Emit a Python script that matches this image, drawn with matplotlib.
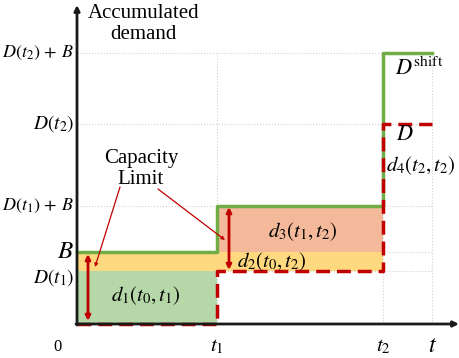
import matplotlib.pyplot as plt

plt.rcParams['font.family'] = ['Liberation Serif', 'DejaVu Serif']
plt.rcParams['mathtext.fontset'] = 'stix'

# time points (t0 = 0)
t1 = 1.40
t2 = 3.06
t_end = 3.55

# demand levels
D1 = 0.53      # D(t1)
B = 0.72       # capacity limit
D1B = 1.18     # D(t1) + B
D2 = 2.00      # D(t2)
D2B = 2.71     # D(t2) + B

y_ticks = [D2B, D2, D1B, B, D1]
y_labels = [r'$D(t_2)\,+\,B$', r'$D(t_2)$', r'$D(t_1)\,+\,B$', r'$B$', r'$D(t_1)$']
y_label_sizes = [13, 14, 13, 18, 14]
y_label_offsets = [0, 0, 0, 0, -0.07]

x_ticks = [0, t1, t2, t_end]
x_labels = ['0', r'$t_1$', r'$t_2$', r'$t$']
x_label_sizes = [12, 15, 15, 17]

# step curves
D_x = [0, t1, t1, t2, t2, t_end]
D_y = [0, 0, D1, D1, D2, D2]
S_x = [0, t1, t1, t2, t2, t_end]
S_y = [B, B, D1B, D1B, D2B, D2B]

green_fill = '#b6d7a8'
yellow_fill = '#ffd97f'
orange_fill = '#f4b99a'
green_line = '#70ad47'
red_line = '#c00000'

fig = plt.figure(figsize=(4.6, 3.58), dpi=100)
ax = fig.add_axes([0, 0, 1, 1])
ax.set_xlim(-0.77, 3.83)
ax.set_ylim(-0.34, 3.24)
ax.axis('off')

# gridlines
for y in y_ticks:
    ax.plot([0, t_end], [y, y], color='#d0d0d0', lw=0.8, ls=':', zorder=1)
for x in [t1, t2, t_end]:
    ax.plot([x, x], [0, D2B], color='#d0d0d0', lw=0.8, ls=':', zorder=1)

# filled regions
ax.fill_between([0, t1], 0, D1, color=green_fill, lw=0, zorder=2)
ax.fill_between([0, t1], D1, B, color=yellow_fill, lw=0, zorder=2)
ax.fill_between([t1, t2], D1, B, color=yellow_fill, lw=0, zorder=2)
ax.fill_between([t1, t2], B, D1B, color=orange_fill, lw=0, zorder=2)

# curves
ax.plot(S_x, S_y, color=green_line, lw=2.5, zorder=4)
ax.plot(D_x, D_y, color=red_line, lw=2.5, ls=(0, (4, 2)), zorder=5)

# axes arrows
ax.annotate('', xy=(0, 3.19), xytext=(0, -0.01),
            arrowprops=dict(arrowstyle='-|>', color='#1a1a1a', lw=2,
                            mutation_scale=8, shrinkA=0, shrinkB=0), zorder=6)
ax.annotate('', xy=(3.82, 0), xytext=(-0.01, 0),
            arrowprops=dict(arrowstyle='-|>', color='#1a1a1a', lw=2,
                            mutation_scale=8, shrinkA=0, shrinkB=0), zorder=6)

# double arrows
ax.annotate('', xy=(0.11, B - 0.02), xytext=(0.11, 0.03),
            arrowprops=dict(arrowstyle='<|-|>', color=red_line, lw=2,
                            mutation_scale=7, shrinkA=0, shrinkB=0), zorder=6)
ax.annotate('', xy=(t1 + 0.12, D1B - 0.01), xytext=(t1 + 0.12, D1 + 0.01),
            arrowprops=dict(arrowstyle='<|-|>', color=red_line, lw=2,
                            mutation_scale=7, shrinkA=0, shrinkB=0), zorder=6)

# capacity limit annotation
ax.text(0.64, 1.55, 'Capacity\nLimit', ha='center', va='center',
        fontsize=15, linespacing=1.1, zorder=7)
ax.annotate('', xy=(0.18, 0.57), xytext=(0.43, 1.37),
            arrowprops=dict(arrowstyle='-|>', color=red_line, lw=0.9,
                            mutation_scale=5, shrinkA=0, shrinkB=0), zorder=7)
ax.annotate('', xy=(1.48, 0.84), xytext=(0.81, 1.35),
            arrowprops=dict(arrowstyle='-|>', color=red_line, lw=0.9,
                            mutation_scale=5, shrinkA=0, shrinkB=0), zorder=7)

# axis title
ax.text(0.11, 3.00, 'Accumulated\ndemand', ha='left', va='center',
        fontsize=15, linespacing=1.1, multialignment='center')

# y labels
for y, lab, fs, off in zip(y_ticks, y_labels, y_label_sizes, y_label_offsets):
    ax.text(-0.03, y + off, lab, ha='right', va='center', fontsize=fs)

# x labels
for x, lab, fs in zip(x_ticks, x_labels, x_label_sizes):
    ax.text(x - (0.19 if x == 0 else 0), -0.23, lab, ha='center', va='center', fontsize=fs)

# region labels
ax.text(0.69, 0.28, r'$d_1(t_0,t_1)$', ha='center', va='center', fontsize=15, zorder=7)
ax.text(1.95, 0.62, r'$d_2(t_0,t_2)$', ha='center', va='center', fontsize=15, zorder=7)
ax.text(2.26, 0.92, r'$d_3(t_1,t_2)$', ha='center', va='center', fontsize=15, zorder=7)
ax.text(3.44, 1.58, r'$d_4(t_2,t_2)$', ha='center', va='center', fontsize=15, zorder=7)
ax.text(3.42, 2.55, r'$D^{\mathrm{shift}}$', ha='center', va='center', fontsize=16, zorder=7)
ax.text(3.28, 1.89, r'$D$', ha='center', va='center', fontsize=16, zorder=7)

fig.savefig('out.png', dpi=100)
